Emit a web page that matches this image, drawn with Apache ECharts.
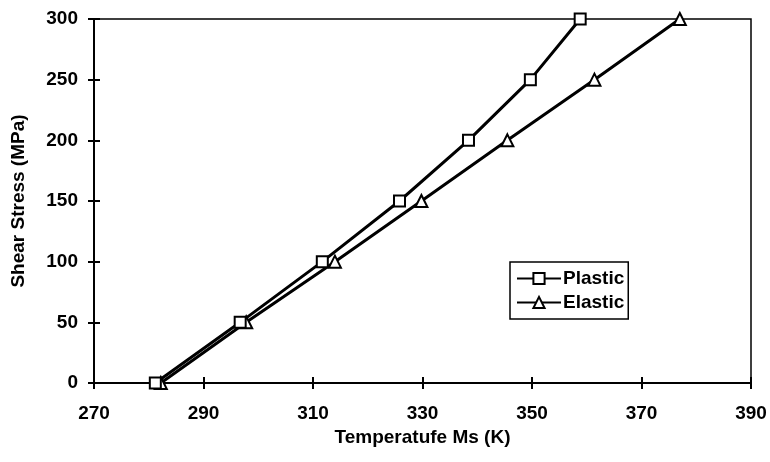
<!DOCTYPE html>
<html><head><meta charset="utf-8">
<script src="https://cdn.jsdelivr.net/npm/echarts@6/dist/echarts.min.js"></script>
<style>html,body{margin:0;padding:0;background:#fff}#c{width:770px;height:462px}</style>
</head><body><div id="c"></div>
<script>
const plasticX = [281.2, 296.7, 311.7, 325.8, 338.4, 349.7, 358.8];
const plasticY = [0, 50, 100, 150, 200, 250, 300];
const elasticX = [282.2, 297.8, 314.0, 329.8, 345.5, 361.4, 377.0];
const elasticY = [0, 50, 100, 150, 200, 250, 300];
const seriesNames = ['Plastic', 'Elastic'];
const xTitle = 'Temperatufe Ms (K)';
const yTitle = 'Shear Stress (MPa)';

const font = 'Liberation Sans, Arial, sans-serif';
const lab = {color: '#000', fontFamily: font, fontWeight: 'bold', fontSize: 19};
const chart = echarts.init(document.getElementById('c'));
const baseX = {type: 'value', min: 270, max: 390, interval: 20, splitLine: {show: false}};
const baseY = {type: 'value', min: 0, max: 300, interval: 50, splitLine: {show: false}};
chart.setOption({
  animation: false,
  backgroundColor: '#fff',
  grid: {left: 94, right: 19, top: 19, bottom: 79, show: true, borderColor: '#000', borderWidth: 1.5, containLabel: false},
  legend: {
    data: seriesNames, orient: 'vertical', left: 510, top: 262,
    borderColor: '#000', borderWidth: 1.5, padding: [7, 4, 7, 6], itemGap: 5,
    itemWidth: 44, itemHeight: 14,
    textStyle: {color: '#000', fontFamily: font, fontWeight: 'bold', fontSize: 19, padding: [0, 0, 0, -3]}
  },
  xAxis: [
    Object.assign({}, baseX, {
      position: 'bottom', name: xTitle, nameLocation: 'middle', nameGap: 45,
      nameTextStyle: lab,
      axisLine: {show: true, onZero: false, lineStyle: {color: '#000', width: 2}},
      axisTick: {show: true, length: 6, lineStyle: {color: '#000', width: 2}},
      axisLabel: Object.assign({margin: 21}, lab)
    }),
    Object.assign({}, baseX, {
      position: 'bottom', axisLine: {show: false},
      axisTick: {show: true, inside: true, length: 6, lineStyle: {color: '#000', width: 2}},
      axisLabel: {show: false}
    })
  ],
  yAxis: [
    Object.assign({}, baseY, {
      position: 'left', name: yTitle, nameLocation: 'middle', nameGap: 66, nameRotate: 90,
      nameTextStyle: lab,
      axisLine: {show: true, onZero: false, lineStyle: {color: '#000', width: 2}},
      axisTick: {show: true, length: 6, lineStyle: {color: '#000', width: 2}},
      axisLabel: Object.assign({margin: 16}, lab)
    }),
    Object.assign({}, baseY, {
      position: 'left', axisLine: {show: false},
      axisTick: {show: true, inside: true, length: 6, lineStyle: {color: '#000', width: 2}},
      axisLabel: {show: false}
    })
  ],
  series: [
    {
      name: seriesNames[0], type: 'line',
      data: plasticX.map((x, i) => [x, plasticY[i]]),
      symbol: 'rect', symbolSize: 11, showAllSymbol: true,
      lineStyle: {color: '#000', width: 3},
      itemStyle: {color: '#fff', borderColor: '#000', borderWidth: 2},
      z: 3
    },
    {
      name: seriesNames[1], type: 'line',
      data: elasticX.map((x, i) => [x, elasticY[i]]),
      symbol: 'triangle', symbolSize: 12, showAllSymbol: true,
      lineStyle: {color: '#000', width: 3},
      itemStyle: {color: '#fff', borderColor: '#000', borderWidth: 2},
      z: 2
    }
  ]
});
</script></body></html>
